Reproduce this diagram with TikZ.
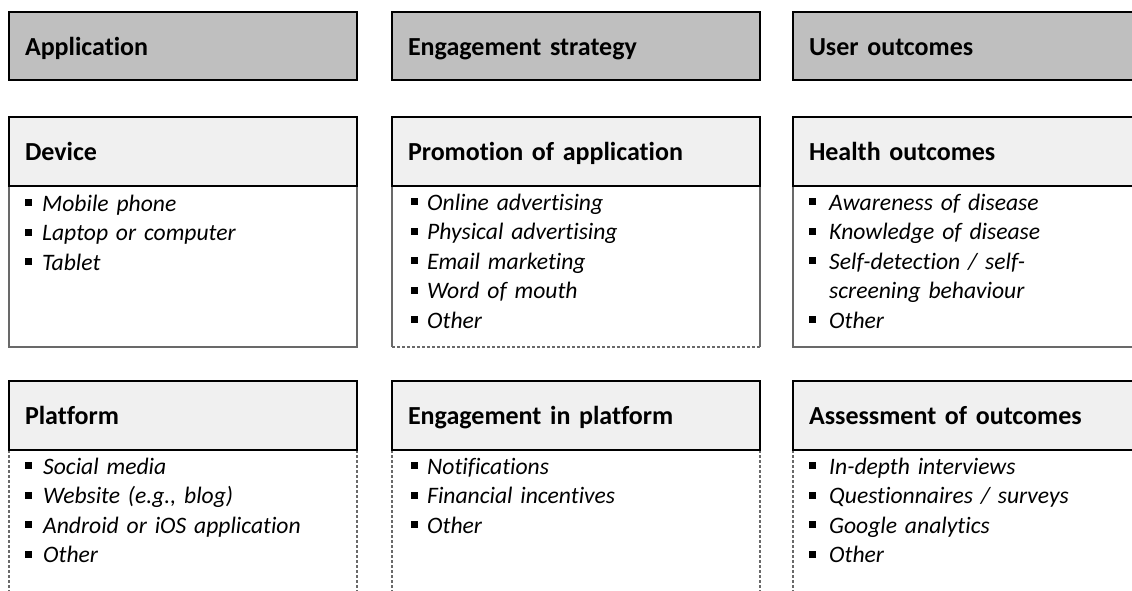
\documentclass[tikz,border=0pt]{standalone}
\usepackage{fontspec}
\setmainfont{Carlito}[Ligatures=NoCommon]

\definecolor{topgrey}{RGB}{191,191,191}
\definecolor{subgrey}{RGB}{240,240,240}
\definecolor{sidegrey}{RGB}{105,105,105}

% square bullet, then the item text
\newcommand{\itm}[2][17pt]{\makebox[#1][l]{\rule[5pt]{7pt}{7pt}}#2}

\tikzset{
  headbox/.style={draw=black, line width=2pt, outer sep=0pt, anchor=north west,
    minimum height=68.5pt, align=left, inner xsep=16pt, text height=20pt, text depth=2.4pt,
    font=\fontsize{26}{30}\selectfont\bfseries},
  topbox/.style={headbox, fill=topgrey},
  subbox/.style={headbox, fill=subgrey},
  itemlist/.style={anchor=base west, align=left, inner sep=0pt, text width=330pt,
    font=\fontsize{23.6}{29.6}\selectfont\itshape},
  solidside/.style={draw=sidegrey, line width=1.5pt},
  dashside/.style={draw=sidegrey, line width=1.2pt, dash pattern=on 3pt off 2pt}
}

\begin{document}
\begin{tikzpicture}[x=1pt,y=-1pt]
\clip (0,0) rectangle (1132,591);
\fill[white] (0,0) rectangle (1132,591);

% Top row
\node[topbox, text width=316pt] (appbox) at (9,12) {Application};
\node[topbox, text width=336pt] (strategybox) at (392,12) {Engagement strategy};
\node[topbox, text width=336pt] (userbox) at (793,12) {User outcomes};

% Second row: frames
\draw[solidside] (9,185) -- (9,347) -- (357,347) -- (357,185);
\draw[solidside] (392,185) -- (392,347);
\draw[solidside] (760,185) -- (760,347);
\draw[dashside] (392,347) -- (760,347);
\draw[solidside] (793,185) -- (793,347) -- (1170,347);

% Third row: frames
\foreach \x in {9,357,392,760,793}
  \draw[dashside] (\x,450) -- (\x,600);

% Second row: headers
\node[subbox, text width=316pt] (device) at (9,117) {Device};
\node[subbox, text width=336pt] (promotion) at (392,117) {Promotion of application};
\node[subbox, text width=336pt] (health) at (793,117) {Health outcomes};

% Third row: headers
\node[subbox, text width=316pt] (platform) at (9,381) {Platform};
\node[subbox, text width=336pt] (engagement) at (392,381) {Engagement in platform};
\node[subbox, text width=336pt] (assessment) at (793,381) {Assessment of outcomes};

% Second row: lists
\node[itemlist] (devicelist) at (25,211)
  {\itm{Mobile phone}\\\itm{Laptop or computer}\\\itm{Tablet}};
\node[itemlist] (promotionlist) at (411,210)
  {\itm[16pt]{Online advertising}\\\itm[16pt]{Physical advertising}\\\itm[16pt]{Email marketing}\\\itm[16pt]{Word of mouth}\\\itm[16pt]{Other}};
\node[itemlist] (healthlist) at (809,210)
  {\itm[20pt]{Awareness of disease}\\\itm[20pt]{Knowledge of disease}\\\itm[20pt]{Self-detection / self-}\\\hspace*{20pt}screening behaviour\\\itm[20pt]{Other}};

% Third row: lists
\node[itemlist] (platformlist) at (25,474)
  {\itm[18pt]{Social media}\\\itm[18pt]{Website (e.g., blog)}\\\itm[18pt]{Android or iOS application}\\\itm[18pt]{Other}};
\node[itemlist] (engagementlist) at (411,474)
  {\itm[16pt]{Notifications}\\\itm[16pt]{Financial incentives}\\\itm[16pt]{Other}};
\node[itemlist] (assessmentlist) at (809,474)
  {\itm[20pt]{In-depth interviews}\\\itm[20pt]{Questionnaires / surveys}\\\itm[20pt]{Google analytics}\\\itm[20pt]{Other}};
\end{tikzpicture}
\end{document}
